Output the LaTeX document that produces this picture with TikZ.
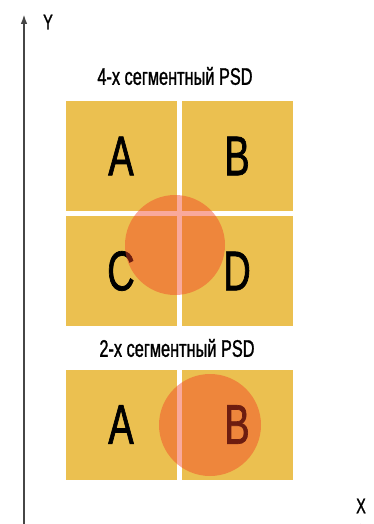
\documentclass[tikz,border=0pt]{standalone}
\usepackage{fontspec}
\setmainfont{Liberation Sans}
\newfontfamily\narrowsf[FakeStretch=0.68]{Liberation Sans}
\newfontfamily\narrowbf[FakeStretch=0.68,FakeBold=1.2]{Liberation Sans}
\usetikzlibrary{arrows.meta}
\definecolor{segyellow}{RGB}{235,192,80}
\definecolor{spotred}{RGB}{242,65,36}
\definecolor{axisgray}{RGB}{70,70,70}
\tikzset{
  seg/.style={rectangle, fill=segyellow, minimum width=83.25pt, minimum height=82.5pt, inner sep=0pt,
    font=\narrowbf\fontsize{42}{42}\selectfont},
  spot/.style={circle, fill=spotred, fill opacity=0.45, inner sep=0pt},
  caption/.style={font=\narrowbf\fontsize{18}{18}\selectfont},
  axislabel/.style={font=\narrowbf\fontsize{16}{16}\selectfont},
  axis/.style={draw=axisgray, line width=1.5pt, -{Latex[length=7.5pt,width=5pt]}}
}
\begin{document}
\begin{tikzpicture}[x=0.75pt,y=-0.75pt]
  \useasboundingbox (0,0) rectangle (374,524);
  \clip (0,0) rectangle (374,524);
  % Axes
  \coordinate (orig) at (24,527);
  \coordinate (ytip) at (24,14);
  \coordinate (xtip) at (370,527);
  \node (ylab) at (48,22) [axislabel] {Y};
  \node (xlab) at (361,506) [axislabel] {X};
  \draw[axis] (orig) -- (ytip);
  \draw[axis] (orig) -- (xtip);

  % 4-segment PSD
  \node (fourcap) at (175,76) [caption] {4-х сегментный PSD};
  \node (fourA) at (121,156) [seg] {A};
  \node (fourB) at (237,156) [seg] {B};
  \node (fourC) at (121,271) [seg] {C};
  \node (fourD) at (237,271) [seg] {D};
  \node (fourspot) at (175,245) [spot, minimum size=75pt] {};

  % 2-segment PSD
  \node (twocap) at (177,348) [caption] {2-х сегментный PSD};
  \node (twoA) at (121,424.5) [seg] {A};
  \node (twoB) at (237,424.5) [seg] {B};
  \node (twospot) at (210,425) [spot, minimum size=76.5pt] {};
\end{tikzpicture}
\end{document}
